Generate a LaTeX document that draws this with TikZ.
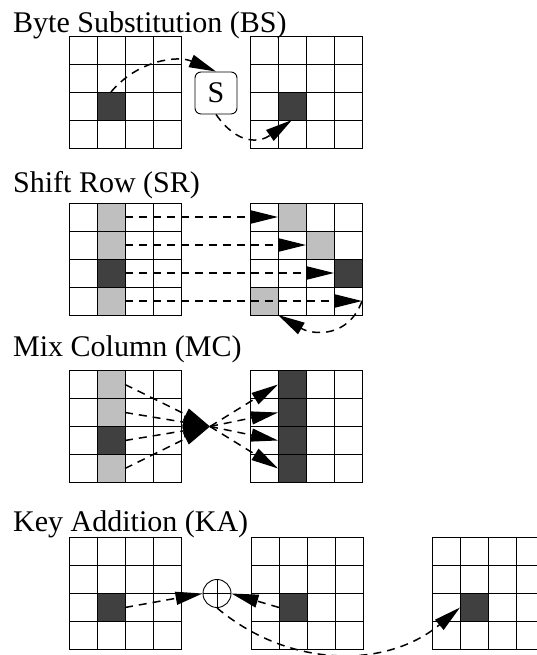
\documentclass[tikz,border=0pt]{standalone}
\usepackage{fontspec}
\setmainfont{Liberation Serif}
\usetikzlibrary{arrows.meta}

\definecolor{dkcell}{RGB}{64,64,64}
\definecolor{ltcell}{RGB}{191,191,191}

\tikzset{
  cell/.style={draw, line width=0.9pt, minimum width=28pt, minimum height=28pt,
    inner sep=0pt, outer sep=0pt},
  move/.style={dash pattern=on 8pt off 6pt, line width=1.5pt,
    -{Triangle[length=27pt,width=13pt]}},
  title/.style={anchor=base west, inner sep=0pt, font=\fontsize{30}{36}\selectfont},
}

% 4x4 state: name, x and y of the top left corner
\newcommand{\stategrid}[3]{%
  \foreach \r in {1,...,4}{\foreach \c in {1,...,4}{
    \node[cell] (#1-\r-\c) at ({#2+14+28*(\c-1)},{#3-14-28*(\r-1)}) {};}}}
\newcommand{\paintcell}[2]{%
  \filldraw[fill=#2, line width=0.9pt] (#1.south west) rectangle (#1.north east);}

\begin{document}
\begin{tikzpicture}[x=1pt,y=1pt]
  \useasboundingbox (0,0) rectangle (536,655);

  % byte substitution
  \node[title] (bstitle) at (13,622) {Byte Substitution (BS)};
  \stategrid{bsL}{69}{619}
  \stategrid{bsR}{250}{619}
  \paintcell{bsL-3-2}{dkcell}
  \paintcell{bsR-3-2}{dkcell}
  \node[draw, line width=0.9pt, rounded corners=6pt, minimum width=42pt,
    minimum height=42pt, inner sep=0pt, font=\fontsize{30}{36}\selectfont]
    (sbox) at (216,562) {S};
  \draw[move] (bsL-3-2.north) to[out=50,in=157] (sbox.north);
  \draw[move] (sbox.south) to[out=-55,in=215,looseness=1.3] (bsR-3-2.south);

  % shift row
  \node[title] (srtitle) at (13,462) {Shift Row (SR)};
  \stategrid{srL}{69}{452}
  \stategrid{srR}{250}{452}
  \foreach \r in {1,2,4}{\paintcell{srL-\r-2}{ltcell}}
  \paintcell{srL-3-2}{dkcell}
  \paintcell{srR-1-2}{ltcell}
  \paintcell{srR-2-3}{ltcell}
  \paintcell{srR-3-4}{dkcell}
  \paintcell{srR-4-1}{ltcell}
  \draw[move] (srL-1-2.east) -- (srR-1-2.west);
  \draw[move] (srL-2-2.east) -- (srR-2-3.west);
  \draw[move] (srL-3-2.east) -- (srR-3-4.west);
  \draw[move] (srL-4-2.east) -- (srR-4-4.east);
  \draw[move] (srR-4-4.east) to[out=-110,in=-30,looseness=1.2] (srR-4-1.south east);

  % mix column
  \node[title] (mctitle) at (13,298.5) {Mix Column (MC)};
  \stategrid{mcL}{69}{284.5}
  \stategrid{mcR}{250}{284.5}
  \foreach \r in {1,2,4}{\paintcell{mcL-\r-2}{ltcell}}
  \paintcell{mcL-3-2}{dkcell}
  \foreach \r in {1,...,4}{\paintcell{mcR-\r-2}{dkcell}}
  \coordinate (mix) at (210,228.5);
  \foreach \r in {1,...,4}{
    \draw[move] (mcL-\r-2.east) -- (mix);
    \draw[move] (mix) -- (mcR-\r-2.west);
  }

  % key addition
  \node[title] (katitle) at (13,123.5) {Key Addition (KA)};
  \stategrid{kaL}{69}{117.5}
  \stategrid{kaM}{251}{117.5}
  \stategrid{kaR}{432}{117.5}
  \paintcell{kaL-3-2}{dkcell}
  \paintcell{kaM-3-2}{dkcell}
  \paintcell{kaR-3-2}{dkcell}
  \node[draw, circle, line width=0.9pt, minimum size=28pt, inner sep=0pt]
    (xorop) at (217,61.5) {};
  \draw[line width=0.9pt] (xorop.north) -- (xorop.south) (xorop.west) -- (xorop.east);
  \draw[move] (kaL-3-2.east) -- (xorop.west);
  \draw[move] (kaM-3-2.west) -- (xorop.east);
  \draw[move] (xorop.south) to[out=-40,in=220] (kaR-3-2.west);
\end{tikzpicture}
\end{document}
